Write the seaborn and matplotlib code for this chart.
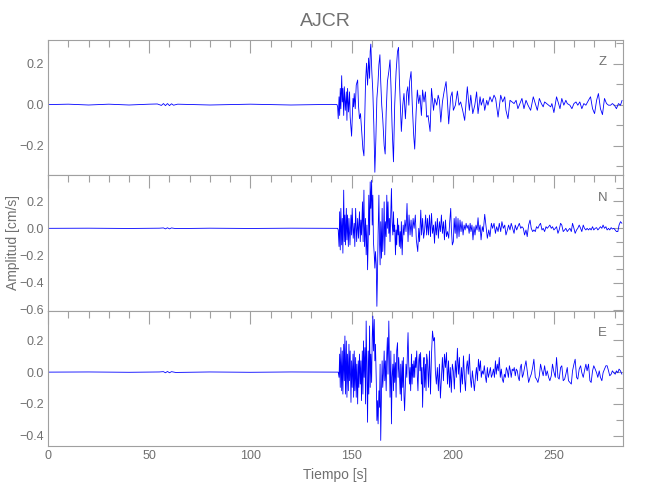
import matplotlib
matplotlib.use("Agg")
import numpy as np
import pandas as pd
import seaborn as sns
import matplotlib.pyplot as plt
from matplotlib.ticker import MultipleLocator, FuncFormatter

# ---------------- data ----------------
title = "AJCR"
components = ["Z", "N", "E"]
x_label = "Tiempo [s]"
y_label = "Amplitud [cm/s]"

z_time = [0, 10, 20, 30, 40, 50, 54, 56, 57, 58, 59, 60, 61, 62, 64, 80, 100, 120, 140, 142.8,
          143.1, 143.4, 143.8, 144.1, 144.4, 144.7, 145.1, 145.4, 145.7, 146.1, 146.4, 146.9,
          147.4, 147.7, 148.0, 148.5, 149.0, 149.3, 150.0, 150.7, 151.0, 151.3, 151.8, 152.3,
          153.0, 153.4, 153.9, 154.4, 154.9, 155.6, 156.1, 156.9, 157.4, 157.9, 158.4, 158.9,
          159.2, 159.5, 160.0, 160.5, 161.0, 161.5, 162.0, 162.5, 163.0, 163.5, 164.0, 164.4,
          164.9, 165.4, 166.1, 166.6, 167.1, 167.7, 168.4, 169.0, 169.5, 170.0, 170.7, 171.3,
          172.0, 172.7, 173.2, 173.6, 174.1, 174.6, 175.3, 175.9, 176.6, 177.3, 177.8, 178.3,
          178.7, 179.4, 180.0, 180.7, 181.2, 181.9, 182.5, 183.2, 183.8, 184.5, 185.1, 185.8,
          186.5, 187.1,
          187.8, 188.8, 189.5, 190.5, 191.1, 192.1, 192.8, 193.4, 194.1, 194.9, 195.7, 196.7,
          197.4, 198.0, 199.0, 199.7, 200.3, 201.3, 202.3, 203.1, 203.9, 204.9, 205.9, 207.2,
          208.2, 208.9, 209.9, 210.9, 211.8, 212.5, 213.5, 214.1, 215.1, 215.8, 216.8, 217.4,
          218.4, 219.4, 220.4, 221.2, 222.4, 223.7, 224.7, 225.7, 226.3, 227.3, 228.3, 229.3,
          230.3, 231.3, 232.2, 233.2, 234.2, 235.2, 236.2, 237.2, 238.5, 239.8, 240.8, 241.8,
          242.8, 243.8, 244.7, 245.4, 246.4, 247.4, 248.4, 249.0, 250.0, 251.3, 252.3, 253.0,
          253.9, 254.9, 255.9, 256.6, 257.9, 258.9, 259.9, 260.9, 261.8, 262.8, 263.8, 264.8,
          265.8, 267.1, 268.1, 269.1, 270.1, 271.1, 272.0, 273.0, 274.0, 275.0, 276.0, 277.0,
          278.0, 278.9, 279.9, 280.9, 281.9, 282.9, 283.7]
z_amp = [0, 0.002, -0.002, 0.002, -0.002, 0.002, 0.003, -0.004, 0.005, -0.005, 0.005, -0.005, 0.004, -0.003, 0.002, -0.002, 0.002, -0.002, 0.001, 0,
         -0.011, -0.069, 0.038, -0.053, 0.079, -0.020, 0.141, 0.013, 0.079, -0.053, 0.087, -0.028,
         0.062, -0.077, 0.079, -0.036, 0.062, -0.061, -0.154, 0.030, -0.011, 0.054, -0.020, 0.095,
         0.120, -0.003, -0.069, -0.044, -0.118, -0.217, -0.250, 0.112, 0.202, 0.095, 0.227, 0.128,
         0.259, 0.295, 0.161, 0.062, -0.102, -0.330, -0.167, 0.030, 0.095, 0.194, 0.243, 0.112,
         -0.003, -0.069, -0.200, -0.241, -0.036, 0.112, 0.161, 0.218, 0.079, -0.102, -0.279, -0.003,
         0.161, 0.259, 0.279, 0.128, -0.003, -0.131, -0.003, 0.054, -0.069, 0.062, 0.087, -0.003,
         0.112, 0.161, -0.003, -0.151, -0.217, -0.036, 0.071, 0.005, 0.046, -0.053, 0.071, 0.013,
         0.062, -0.061,
         -0.053, -0.131, 0.079, -0.028, 0.030, -0.003, 0.046, 0.021, -0.085, 0.013, 0.062, 0.112,
         0.013, -0.094, 0.038, 0.062, -0.028, -0.003, 0.066, -0.003, 0.013, -0.028, -0.077, 0.087,
         -0.028, 0.046, -0.044, -0.003, 0.062, -0.044, 0.038, -0.003, 0.030, -0.028, 0.021, -0.003,
         0.038, 0.013, 0.046, 0.030, -0.061, 0.046, 0.013, 0.038, -0.028, -0.069, 0.021, 0.013,
         0.005, 0.021, -0.020, 0.005, 0.030, -0.020, 0.021, -0.003, -0.028, 0.038, 0.005, -0.028,
         0.030, 0.005, -0.011, 0.013, 0.005, -0.003, -0.011, 0.005, -0.039, 0.038, 0.005, -0.020,
         0.030, -0.003, 0.021, 0.005, -0.003, -0.020, 0.005, 0.013, -0.003, 0.013, -0.020, 0.005,
         -0.003, 0.021, 0.038, -0.020, -0.044, 0.021, 0.054, -0.020, -0.049, 0.030, 0.005, -0.003,
         -0.003, 0.005, -0.003, -0.020, 0.005, -0.003, 0.021]

n_time = [0, 20, 40, 55, 57, 58, 59, 60, 61, 63, 80, 100, 120, 140, 143.1,
          143.4, 143.8, 144.1, 144.4, 144.7, 145.1, 145.4, 145.7, 146.1, 146.4, 146.7, 147.0,
          147.4, 147.7, 148.0, 148.4, 148.7, 149.2, 149.7, 150.0, 150.3, 150.8, 151.3, 151.6,
          152.0, 152.5, 153.0, 153.4, 153.9, 154.3, 154.6, 154.9, 155.4, 155.7, 156.1, 156.4,
          156.9, 157.2, 157.6, 157.9, 158.2, 158.5, 158.9, 159.2, 159.5, 159.9, 160.2, 160.5,
          160.8, 161.2, 161.5, 161.8, 162.2, 162.5, 162.8, 163.1, 163.5, 163.8, 164.1, 164.4,
          164.8, 165.1, 165.4, 165.8, 166.1, 166.4, 166.7, 167.1, 167.4, 167.7, 168.0, 168.4,
          168.7, 169.0, 169.4, 169.7, 170.0, 170.4, 170.7, 171.0, 171.3, 171.7, 172.0, 172.3,
          172.7, 173.0, 173.3, 173.6, 174.0, 174.3, 174.6, 175.0, 175.5, 175.9, 176.4, 176.9,
          177.4, 177.9, 178.4, 178.9, 179.4, 179.9, 180.4, 180.9, 181.5, 182.0, 182.7, 183.2,
          183.6, 184.2, 184.6, 185.1, 185.6, 186.1, 186.6, 187.1,
          187.5, 188.0, 188.5, 189.0, 189.5, 190.0, 190.5, 191.0, 191.4, 191.9, 192.4, 192.9,
          193.4, 193.9, 194.4, 194.9, 195.4, 195.9, 196.4, 196.9, 197.4, 198.0, 198.5, 199.0,
          199.3, 199.8, 200.3, 200.7, 201.2, 201.6, 202.1, 202.6, 203.1, 203.6, 204.1, 204.6,
          205.1, 205.6, 206.1, 206.6, 207.1, 207.6, 208.1, 208.6, 209.0, 209.5, 210.0, 210.5,
          211.0, 211.5, 212.0, 212.5, 213.0, 213.5, 214.0, 214.6, 215.1, 215.8, 216.4, 217.1,
          217.8, 218.4, 219.1, 219.7, 220.4, 221.1, 221.7, 222.4, 223.0, 223.7, 224.3, 225.0,
          225.7, 226.3, 227.0, 227.6, 228.3, 228.9, 229.6, 230.3, 230.9, 231.6, 232.2, 232.9,
          233.6, 234.2, 234.9, 235.5, 236.2, 236.8, 237.5, 238.2, 238.8, 239.5, 240.1, 240.8,
          241.4, 242.1, 242.8, 243.4, 244.1, 244.7, 245.4, 246.1, 246.7, 247.4, 248.0, 248.7,
          249.3, 250.0, 250.7, 251.3, 252.0, 252.6, 253.3, 253.9, 254.6, 255.3, 255.9, 256.6,
          257.2, 257.9, 258.6, 259.2, 259.9, 260.5, 261.2, 261.8, 262.5, 263.2, 263.8, 264.5,
          265.1, 265.8, 266.4, 267.1, 267.8, 268.4, 269.1, 269.7, 270.4, 271.1, 271.7, 272.4,
          273.0, 273.7, 274.3, 275.0, 275.7, 276.3, 277.0, 277.6, 278.3, 278.9, 279.6, 280.3,
          280.9, 281.6, 282.2, 282.9, 283.6]
n_amp = [0, 0.001, -0.001, 0.001, 0.003, -0.004, 0.004, -0.004, 0.003, -0.002, 0.001, -0.001, 0.001, 0, 0,
         -0.012, -0.134, 0.122, -0.159, 0.147, -0.122, 0.073, -0.183, 0.281, -0.098, 0.098, -0.122,
         0.147, -0.085, 0.098, -0.134, 0.073, -0.122, 0.098, -0.049, 0.147, -0.073, 0.037, -0.134,
         0.147, -0.098, 0.073, -0.073, 0.122, -0.098, 0.061, -0.049, 0.195, -0.098, 0.281, -0.134,
         0.073, -0.195, 0.024, -0.305, -0.098, 0.244, -0.049, 0.342, 0.147, 0.354, 0.024, 0.244,
         -0.098, -0.195, -0.293, -0.171, -0.269, -0.574, -0.342, -0.049, 0.244, -0.098, -0.269, 0.049,
         -0.220, 0.147, -0.171, -0.024, 0.195, -0.195, 0.049, -0.061, 0.244, 0.000, 0.195, -0.037,
         0.073, -0.098, 0.122, 0.293, 0.049, -0.049, 0.122, -0.024, 0.024, -0.195, -0.012, -0.122,
         0.073, -0.049, 0.024, -0.134, -0.024, -0.147, 0.049, -0.195, 0.024, -0.049, 0.061, -0.024,
         0.183, -0.098, 0.098, -0.049, 0.061, -0.061, 0.073, 0.000, 0.098, -0.085, -0.171, 0.000,
         -0.098, 0.134, -0.049, 0.073, -0.073, -0.012, 0.098, -0.049,
         0.073, -0.049, 0.098, -0.061, 0.110, -0.037, 0.024, -0.110, 0.049, -0.049, 0.073, -0.073,
         0.049, -0.024, 0.098, -0.037, 0.049, -0.085, 0.061, -0.061, -0.024, -0.073, 0.049, 0.147,
         0.000, -0.122, -0.098, 0.073, -0.037, 0.085, -0.073, 0.073, -0.061, 0.061, -0.024, 0.049,
         -0.049, 0.024, -0.012, 0.037, 0.000, 0.024, -0.037, 0.037, -0.024, 0.024, -0.085, 0.012,
         -0.049, 0.024, -0.012, 0.078, -0.024, 0.024, -0.085, 0.012, -0.024, 0.103, 0.024, -0.073,
         -0.012, -0.061, 0.037, 0.000, 0.037, -0.037, 0.012, -0.024, 0.037, -0.024, 0.049, 0.000,
         0.024, -0.049, -0.012, 0.024, -0.012, 0.037, 0.000, -0.037, 0.024, -0.012, 0.012, 0.037,
         0.000, 0.012, 0.000, -0.049, -0.012, -0.061, 0.024, 0.061, 0.000, -0.024, -0.012, -0.024,
         0.012, 0.000, 0.024, 0.037, -0.012, 0.000, -0.024, 0.012, 0.000, 0.012, 0.024, 0.000,
         0.012, -0.012, 0.000, 0.012, -0.037, -0.012, 0.037, 0.024, -0.024, -0.012, 0.000, -0.024,
         -0.012, 0.000, -0.024, 0.037, 0.000, -0.037, -0.012, 0.000, 0.024, 0.000, -0.024, 0.024,
         0.000, -0.012, 0.000, -0.012, 0.000, -0.012, 0.012, -0.012, 0.000, 0.005, -0.012, 0.000,
         0.012, 0.000, 0.024, 0.000, 0.012, -0.012, 0.000, -0.012, 0.005, -0.005, 0.000, -0.012,
         -0.024, -0.024, 0.024, 0.049, 0.037]

e_time = [0, 20, 40, 55, 57, 58, 59, 60, 61, 63, 80, 100, 120, 140, 143.4,
          143.8, 144.1, 144.4, 144.7, 145.1, 145.4, 145.7, 146.1, 146.4, 146.7, 147.0, 147.4,
          147.7, 148.0, 148.4, 148.7, 149.0, 149.3, 149.7, 150.0, 150.3, 150.7, 151.0, 151.3,
          151.6, 152.0, 152.3, 152.6, 153.0, 153.3, 153.6, 153.9, 154.3, 154.6, 154.9, 155.3,
          155.6, 155.9, 156.2, 156.6, 156.9, 157.2, 157.6, 157.9, 158.2, 158.5, 158.9, 159.2,
          159.5, 159.9, 160.2, 160.5, 160.8, 161.2, 161.5, 161.8, 162.2, 162.5, 162.8, 163.1,
          163.5, 163.8, 164.1, 164.4, 164.8, 165.1, 165.4, 165.8, 166.1, 166.4, 166.7, 167.1,
          167.4, 167.7, 168.0, 168.4, 168.7, 169.0, 169.4, 169.7, 170.0, 170.4, 170.7, 171.0,
          171.3, 171.7, 172.0, 172.3, 172.7, 173.0, 173.3, 173.6, 174.0, 174.3, 174.6, 175.0,
          175.3, 175.6, 175.9, 176.2, 176.6, 176.9, 177.3, 177.6, 177.9, 178.2, 178.6, 178.9,
          179.2, 179.6, 179.9, 180.2, 180.5, 180.8, 181.2, 181.5, 181.8, 182.2, 182.5, 182.8,
          183.2, 183.5, 183.8, 184.1, 184.5, 184.8, 185.1, 185.5, 185.8, 186.1, 186.5, 186.8,
          187.1,
          187.5, 188.0, 188.5, 189.0, 189.5, 190.0, 190.5, 191.0, 191.4, 191.9, 192.4, 192.9,
          193.4, 193.9, 194.4, 194.9, 195.4, 195.9, 196.4, 196.9, 197.4, 197.9, 198.4, 198.8,
          199.3, 199.8, 200.3, 200.8, 201.3, 201.8, 202.3, 202.8, 203.3, 203.8, 204.3, 204.8,
          205.3, 205.8, 206.3, 206.7, 207.2, 207.7, 208.2, 208.7, 209.2, 209.7, 210.2, 210.7,
          211.2, 211.7, 212.2, 212.7, 213.2, 213.7, 214.1, 214.6, 215.1, 215.6, 216.1, 216.6,
          217.1, 217.6, 218.1, 218.6, 219.1, 219.6, 220.1, 220.6, 221.1, 221.5, 222.0, 222.5,
          223.0, 223.5, 224.0, 224.5, 225.0, 225.5, 226.0, 226.5, 227.0, 227.5, 228.0, 228.5,
          228.9, 229.4, 229.9, 230.4, 230.9, 231.4, 231.9, 232.4, 232.9, 233.4, 233.9, 234.4,
          234.9, 235.5, 236.2, 236.8, 237.5, 238.2, 238.8, 239.5, 240.1, 240.8, 241.4, 242.1,
          242.8, 243.4, 244.1, 244.7, 245.4, 246.1, 246.7, 247.4, 248.0, 248.7, 249.3, 250.0,
          250.7, 251.3, 252.0, 252.6, 253.3, 253.9, 254.6, 255.3, 255.9, 256.6, 257.2, 257.9,
          258.6, 259.2, 259.9, 260.5, 261.2, 261.8, 262.5, 263.2, 263.8, 264.5, 265.1, 265.8,
          266.4, 267.1, 267.8, 268.4, 269.1, 269.7, 270.4, 271.1, 271.7, 272.4, 273.0, 273.7,
          274.3, 275.0, 275.7, 276.3, 277.0, 277.6, 278.3, 278.9, 279.6, 280.3, 280.9, 281.6,
          282.2, 282.9, 283.6]
e_amp = [0, 0.001, -0.001, 0.001, 0.003, -0.004, 0.004, -0.004, 0.003, -0.002, 0.001, -0.001, 0.001, 0, 0,
         -0.033, 0.113, -0.096, 0.154, -0.117, 0.133, -0.138, 0.175, -0.054, 0.227, -0.138, 0.196,
         -0.158, 0.113, -0.117, 0.175, -0.054, 0.133, -0.190, 0.071, -0.096, 0.113, -0.158, 0.133,
         -0.117, 0.092, -0.158, 0.050, -0.200, 0.071, -0.096, 0.113, -0.075, 0.071, -0.179, 0.133,
         -0.138, 0.196, -0.033, 0.154, -0.200, 0.321, -0.033, -0.315, 0.133, -0.138, 0.290, -0.096,
         0.113, -0.065, 0.217, 0.352, 0.133, 0.331, 0.071, 0.175, -0.054, -0.304, -0.179, -0.325,
         -0.117, -0.221, 0.050, -0.429, -0.117, 0.071, -0.096, 0.008, 0.133, -0.054, 0.071, -0.117,
         0.113, 0.217, -0.013, 0.321, 0.071, -0.158, 0.133, -0.325, -0.033, 0.050, -0.117, 0.113,
         -0.065, 0.060, -0.158, 0.133, 0.185, -0.033, 0.092, 0.008, -0.138, 0.050, -0.179, 0.071,
         -0.096, 0.092, -0.148, -0.242, -0.075, 0.050, -0.033, 0.133, 0.248, 0.071, -0.075, 0.029,
         -0.117, 0.113, -0.075, 0.050, -0.033, 0.071, -0.033, 0.092, 0.029, 0.133, -0.033, -0.117,
         0.071, 0.113, 0.008, 0.123, -0.075, 0.029, -0.221, 0.029, 0.092, -0.096, 0.050, -0.117,
         0.113,
         0.071, -0.096, 0.133, -0.138, 0.113, 0.258, 0.196, 0.217, 0.008, -0.075, 0.029, -0.117,
         0.050, -0.163, -0.033, 0.092, -0.054, 0.113, 0.029, 0.123, -0.075, 0.071, -0.096, 0.029,
         -0.127, 0.050, 0.008, -0.106, 0.071, -0.033, 0.150, -0.013, 0.092, -0.127, 0.029, -0.075,
         0.102, -0.033, -0.117, 0.019, 0.071, -0.013, 0.113, -0.033, -0.096, 0.008, -0.054, -0.117,
         -0.033, 0.029, -0.054, 0.081, 0.008, 0.071, -0.033, 0.008, -0.013, 0.040, -0.023, -0.065,
         0.029, -0.033, -0.004, 0.029, -0.033, -0.013, 0.019, -0.033, 0.071, -0.013, 0.050, 0.008,
         0.092, -0.033, 0.019, -0.044, -0.065, -0.013, -0.033, 0.029, 0.008, -0.033, 0.040, 0.008,
         -0.033, 0.019, 0.008, 0.029, -0.023, 0.019, 0.008, -0.033, -0.054, 0.029, 0.050, -0.033,
         -0.013, 0.029, 0.071, 0.008, -0.065, -0.033, -0.013, 0.029, 0.081, -0.033, -0.044, -0.065,
         -0.023, 0.050, 0.008, -0.023, 0.040, -0.023, 0.008, -0.033, -0.054, -0.023, 0.050, 0.000,
         -0.033, 0.092, -0.033, -0.044, 0.029, 0.040, -0.054, -0.044, -0.013, 0.029, -0.054, -0.065,
         -0.075, 0.008, 0.050, 0.081, -0.033, -0.044, 0.019, 0.040, -0.004, -0.033, 0.008, 0.050,
         0.008, 0.050, -0.054, -0.065, 0.008, 0.040, 0.019, -0.004, -0.033, 0.008, -0.033, -0.054,
         -0.004, 0.019, 0.040, 0.040, 0.008, -0.023, -0.013, 0.008, -0.004, -0.013, 0.008, -0.004,
         0.019, 0.008, -0.013]

y_limits = [(-0.345, 0.315), (-0.606, 0.39), (-0.464, 0.386)]
y_major_ticks = [[-0.2, 0.0, 0.2], [-0.6, -0.4, -0.2, 0.0, 0.2], [-0.4, -0.2, 0.0, 0.2]]
x_max = 284

# ---------------- style ----------------
sns.set_theme(style="white")
plt.rcParams["font.family"] = ["Liberation Sans", "DejaVu Sans"]
text_col = "#707070"
axis_col = "#a0a0a0"
trace_col = "#0000ff"

fig, axes = plt.subplots(3, 1, figsize=(6.5, 5), dpi=100, sharex=True)
fig.subplots_adjust(left=0.074, right=0.958, top=0.92, bottom=0.108, hspace=0)

traces = [(z_time, z_amp), (n_time, n_amp), (e_time, e_amp)]
for i, (ax, (t, a), comp) in enumerate(zip(axes, traces, components)):
    df = pd.DataFrame({"t": t, "amp": a})
    sns.lineplot(data=df, x="t", y="amp", ax=ax, color=trace_col, linewidth=0.6,
                 estimator=None, sort=False)
    ax.set_xlim(0, x_max)
    ax.set_ylim(*y_limits[i])
    ax.xaxis.set_major_locator(MultipleLocator(50))
    ax.xaxis.set_minor_locator(MultipleLocator(10))
    ax.set_yticks(y_major_ticks[i])
    ax.yaxis.set_minor_locator(MultipleLocator(0.1))
    ax.yaxis.set_major_formatter(FuncFormatter(lambda v, p: f"{v:.1f}".replace("-", "\u2212")))
    ax.tick_params(which="both", direction="in", top=True, right=True,
                   color=axis_col, labelcolor=text_col, labelsize=9, width=0.8, pad=3)
    ax.tick_params(which="major", length=9)
    ax.tick_params(which="minor", length=5)
    ax.tick_params(axis="y", which="major", length=7)
    for s in ax.spines.values():
        s.set_color(axis_col)
        s.set_linewidth(0.8)
    ax.set_xlabel("")
    ax.set_ylabel("")
    ax.text(0.965, 0.835, comp, transform=ax.transAxes, ha="center", va="center",
            color=text_col, fontsize=9.5)

axes[2].set_xlabel(x_label, color=text_col, fontsize=10, labelpad=4)
fig.text(0.02, 0.514, y_label, rotation=90, ha="center", va="center",
         color=text_col, fontsize=10)
fig.suptitle(title, y=0.975, color=text_col, fontsize=14)

fig.savefig("out.png", dpi=100)
